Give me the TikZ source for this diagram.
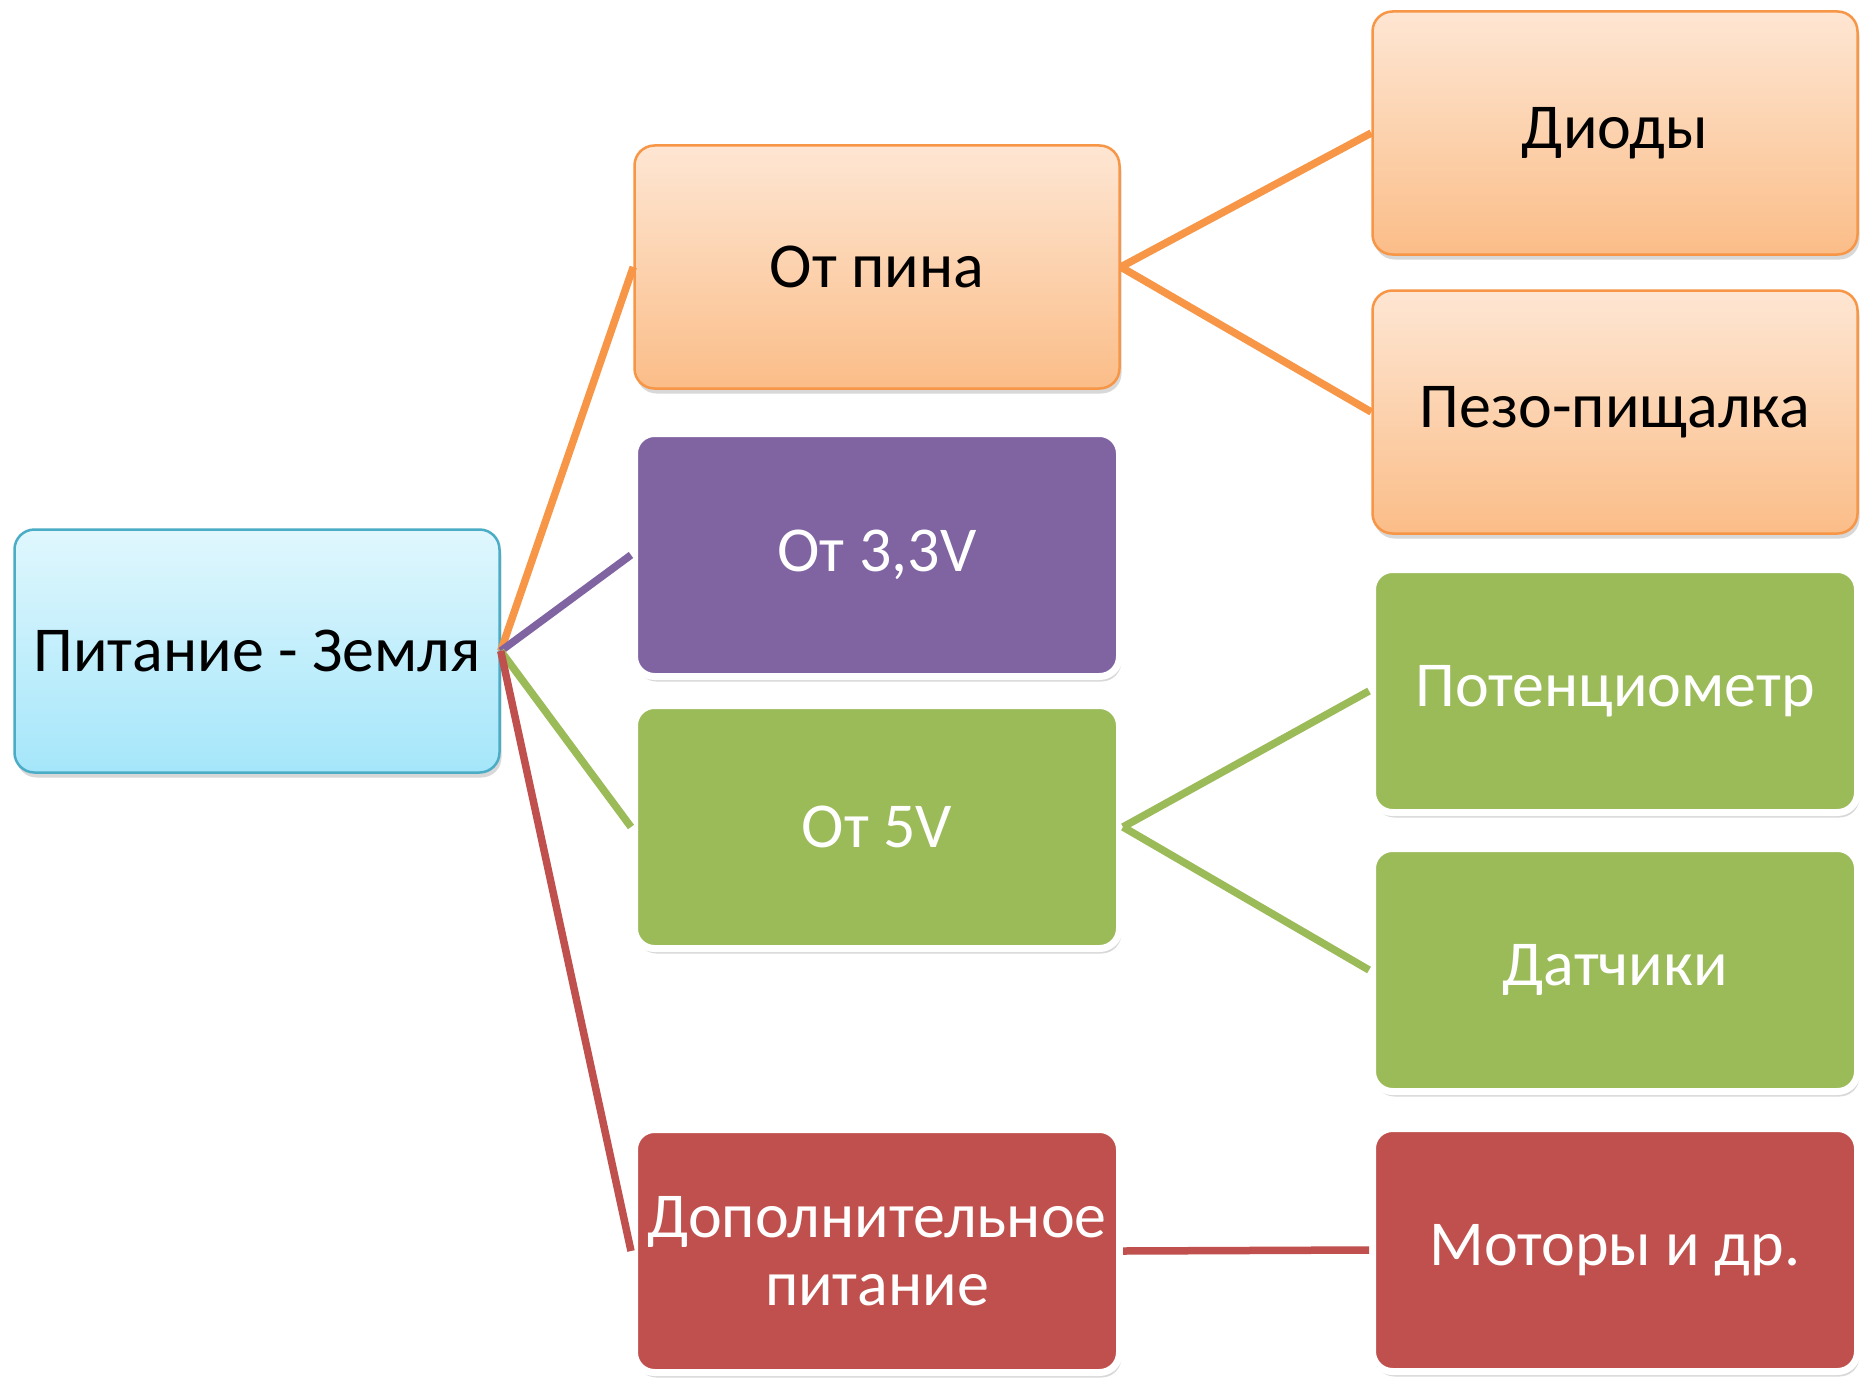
\documentclass[tikz,border=0pt]{standalone}
\usepackage{fontspec}
\setmainfont{Carlito}
\usetikzlibrary{shadows}
\definecolor{orB}{HTML}{F79646}
\definecolor{orT}{HTML}{FEE6D3}
\definecolor{orM}{HTML}{FCD2AE}
\definecolor{orD}{HTML}{FBBD88}
\definecolor{cyB}{HTML}{4BACC6}
\definecolor{cyT}{HTML}{E0F7FD}
\definecolor{cyD}{HTML}{A5E6FA}
\definecolor{pu}{HTML}{8064A2}
\definecolor{gr}{HTML}{9BBB59}
\definecolor{rd}{HTML}{C0504D}
\tikzset{
  boxbase/.style={rectangle, rounded corners=20pt, minimum width=485pt, minimum height=243pt,
     inner sep=4pt, align=center, font=\fontsize{64}{72}\selectfont,
     drop shadow={shadow xshift=2pt, shadow yshift=-5pt, opacity=0.25, fill=black!60}},
  orbox/.style={boxbase, draw=orB, line width=2.5pt, top color=orT, bottom color=orD, middle color=orM, text=black},
  rootbox/.style={boxbase, draw=cyB, line width=2.5pt, top color=cyT, bottom color=cyD, text=black},
  solbox/.style={boxbase, draw=white, line width=7pt, fill=#1, text=white},
  conn/.style={line width=7.5pt, draw=#1}
}
\begin{document}
\begin{tikzpicture}[x=1pt,y=-1pt]
\useasboundingbox[fill=white] (0,0) rectangle (1860,1378);
\node[rootbox] (root) at (257,651) {Питание - Земля};
\node[orbox] (pin) at (877,267) {От пина};
\node[solbox=pu] (v33) at (877,555) {От 3,3V};
\node[solbox=gr] (v5) at (877,827) {От 5V};
\node[solbox=rd] (dop) at (877,1251) {Дополнительное\\[-4pt]питание};
\node[orbox] (diod) at (1615,133) {Диоды};
\node[orbox] (piezo) at (1615,412) {Пезо-пищалка};
\node[solbox=gr] (pot) at (1615,691) {Потенциометр};
\node[solbox=gr] (dat) at (1615,970) {Датчики};
\node[solbox=rd] (mot) at (1615,1250) {Моторы и др.};
\draw[conn=orB] (root.east) -- (pin.west);
\draw[conn=pu] (root.east) -- (v33.west);
\draw[conn=gr] (root.east) -- (v5.west);
\draw[conn=rd] (root.east) -- (dop.west);
\draw[conn=orB] (pin.east) -- (diod.west);
\draw[conn=orB] (pin.east) -- (piezo.west);
\draw[conn=gr] (v5.east) -- (pot.west);
\draw[conn=gr] (v5.east) -- (dat.west);
\draw[conn=rd] (dop.east) -- (mot.west);
\end{tikzpicture}
\end{document}
